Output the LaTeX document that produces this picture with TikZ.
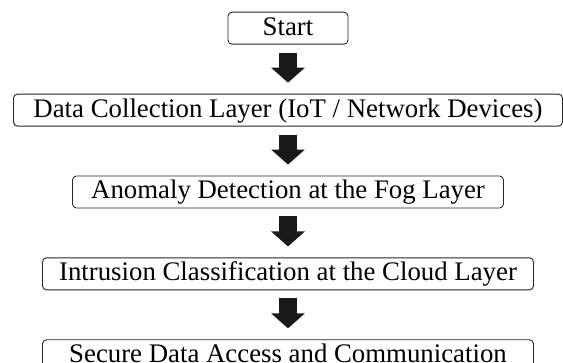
\documentclass[tikz,border=0pt]{standalone}
\usepackage{fontspec}
\setmainfont{Liberation Serif}
\usetikzlibrary{arrows.meta,positioning}

\begin{document}
\begin{tikzpicture}[x=1pt,y=1pt,
    box/.style={draw=black!85,line width=0.9pt,rounded corners=4pt,
                minimum height=32pt,inner sep=0pt,
                text height=18pt,text depth=4pt,
                font=\fontsize{26.8}{30}\selectfont},
    flow/.style={-{Triangle[width=33pt,length=15pt]},line width=18pt,
                 draw=black!90,shorten <=8pt,shorten >=11pt},
]
\useasboundingbox (0,0) rectangle (563,-363);
\clip (0,0) rectangle (563,-363);

% ---- Steps ---------------------------------------------------------------
\node[box,minimum width=120pt] (start) at (288,-28.2) {Start};
\node[box,minimum width=549pt,below=49pt of start] (collect)
    {Data Collection Layer (IoT / Network Devices)};
\node[box,minimum width=431pt,below=49pt of collect] (fog)
    {Anomaly Detection at the Fog Layer};
\node[box,minimum width=491pt,below=49pt of fog] (cloud)
    {Intrusion Classification at the Cloud Layer};
\node[box,minimum width=491pt,below=49pt of cloud] (secure)
    {Secure Data Access and Communication};

% ---- Arrows --------------------------------------------------------------
\draw[flow] (start)   -- (collect);
\draw[flow] (collect) -- (fog);
\draw[flow] (fog)     -- (cloud);
\draw[flow] (cloud)   -- (secure);

\end{tikzpicture}
\end{document}
